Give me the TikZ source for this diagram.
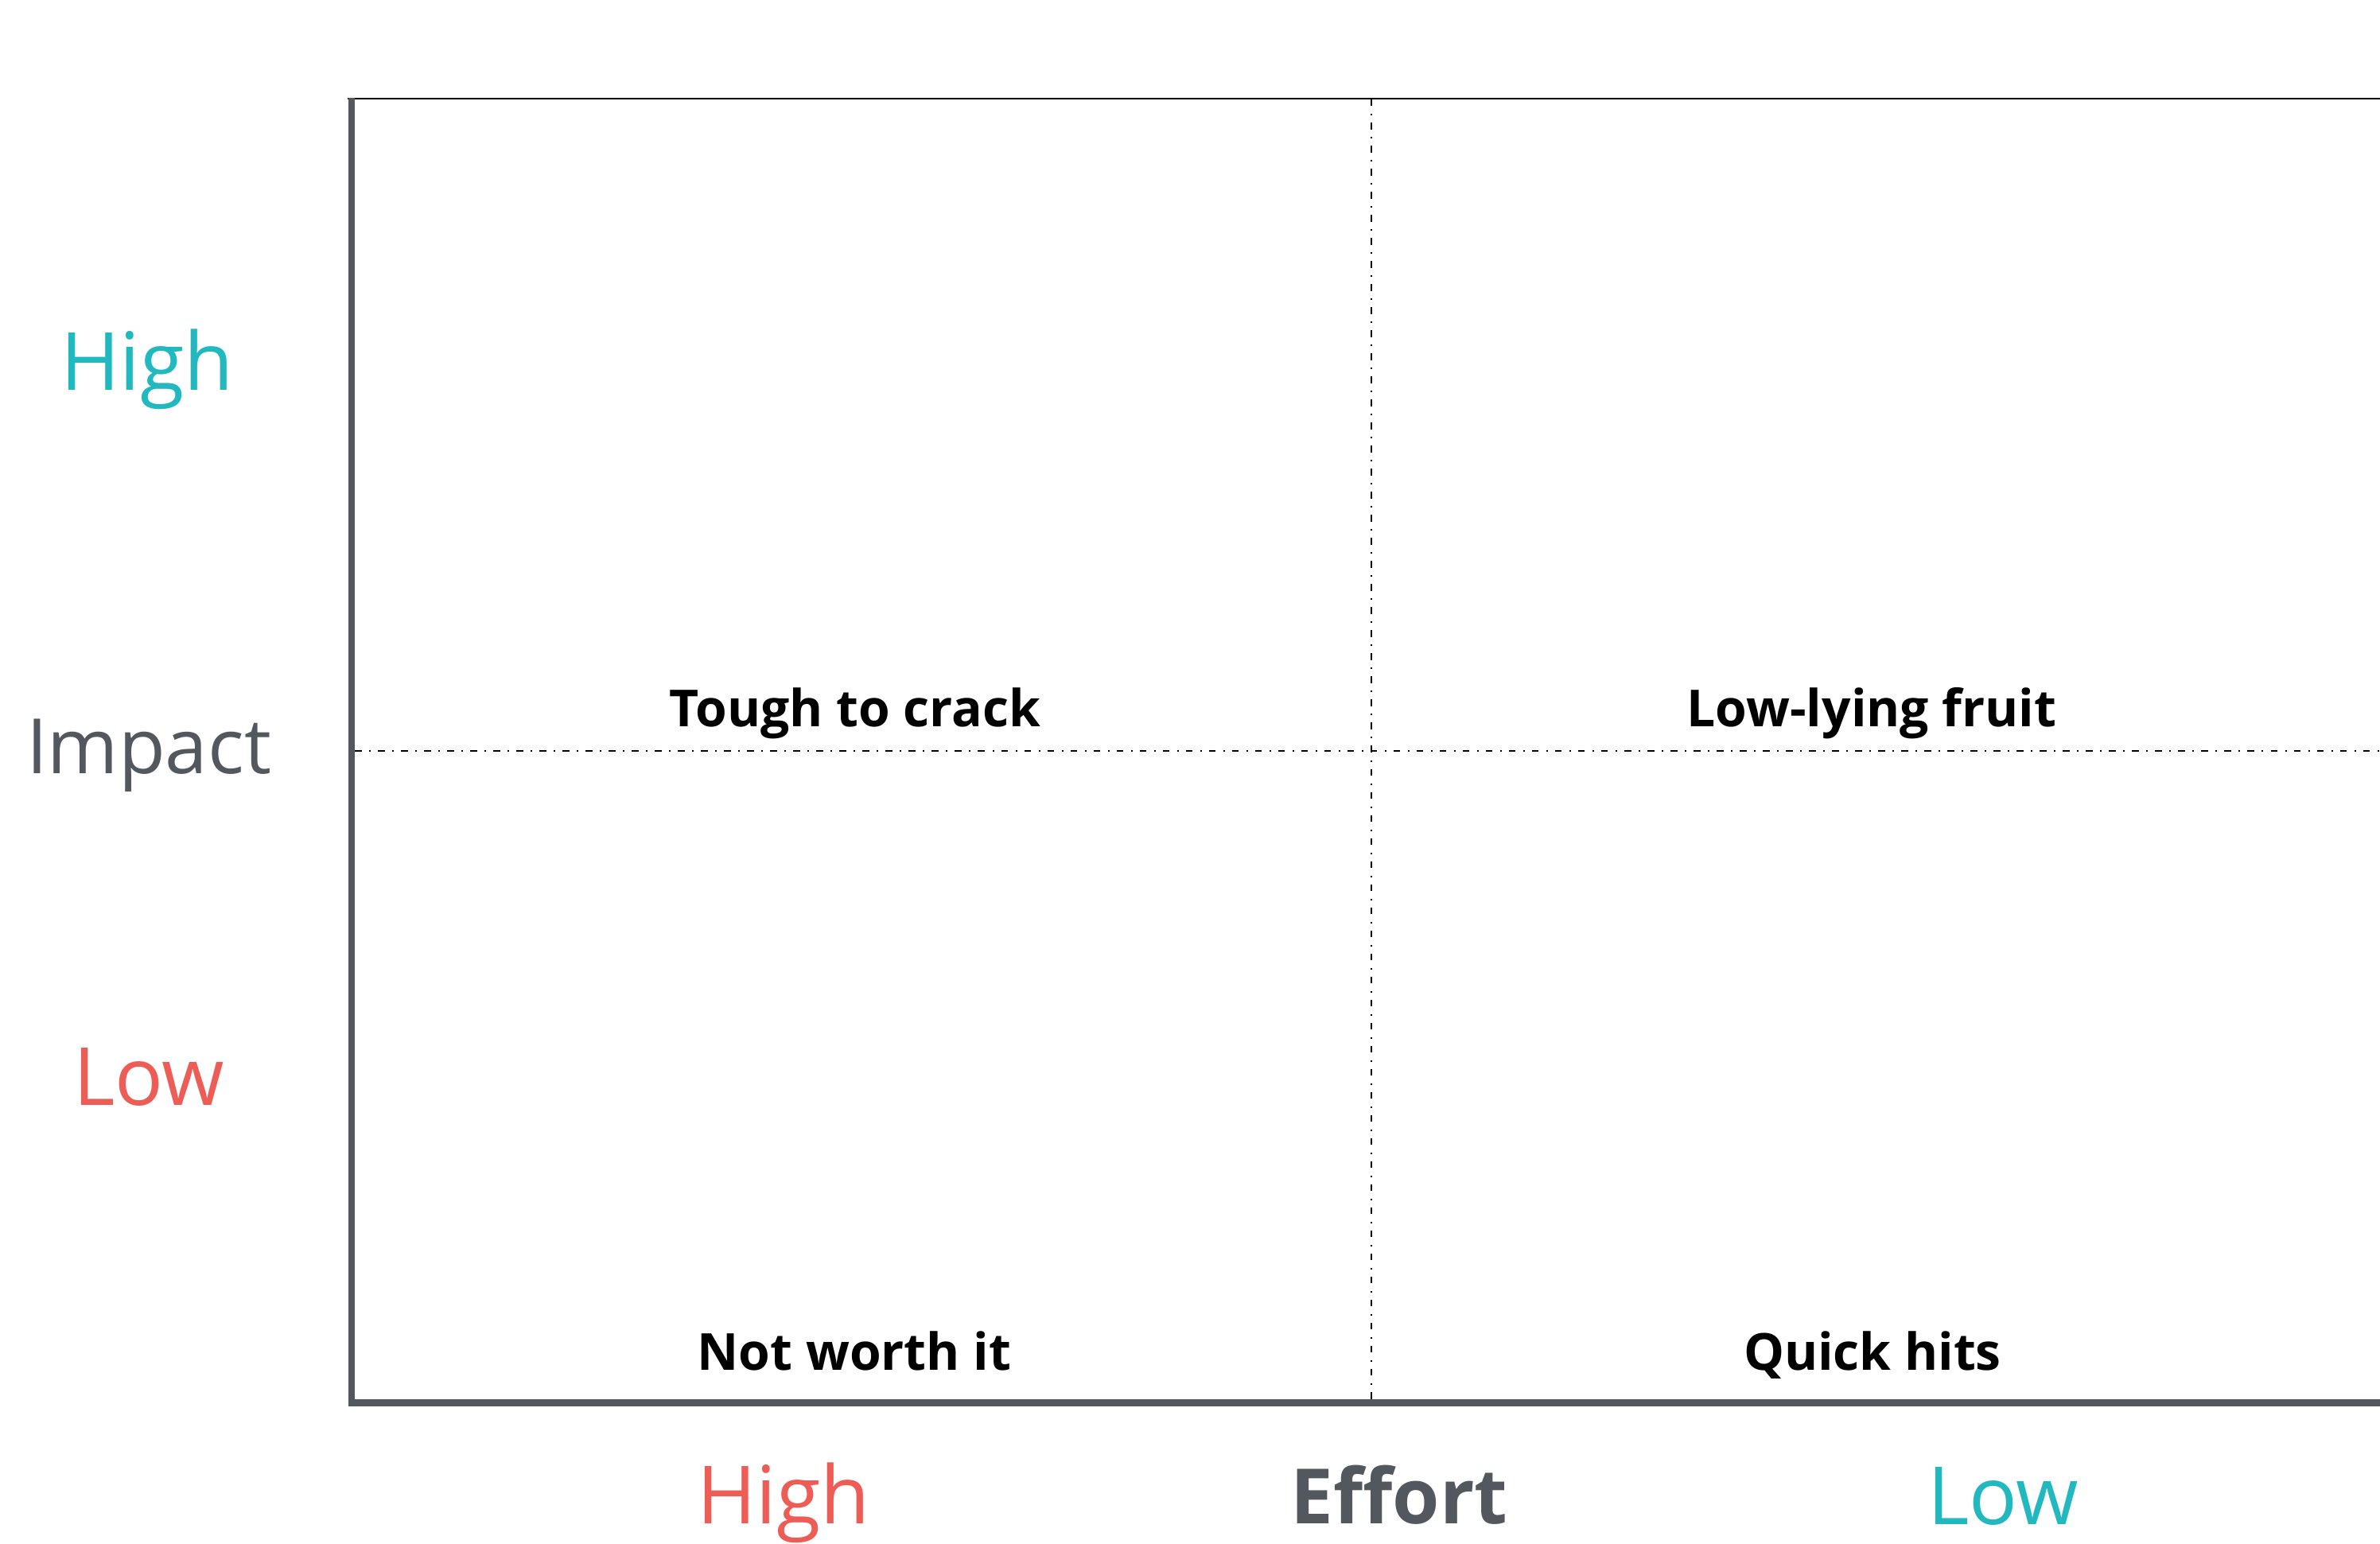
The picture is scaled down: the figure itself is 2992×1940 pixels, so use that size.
\documentclass[tikz,border=0pt]{standalone}
\usepackage{fontspec}
\setmainfont{Open Sans}
\definecolor{tealc}{HTML}{22B8C0}
\definecolor{redc}{HTML}{EE5D55}
\definecolor{grayc}{HTML}{53585F}
\begin{document}
\begin{tikzpicture}[x=0.01cm,y=-0.01cm,
  axislabel/.style={inner sep=0,outer sep=0,anchor=base,font=\fontsize{28.7pt}{30pt}\selectfont},
  axistitle/.style={inner sep=0,outer sep=0,anchor=base,text=grayc,font=\fontsize{27.3pt}{29pt}\selectfont},
  quadlabel/.style={inner sep=0,outer sep=0,anchor=base,font=\fontsize{18.25pt}{20pt}\selectfont\bfseries,text=black},
  axisline/.style={draw=grayc},
  divider/.style={draw=black,line width=0.02cm,dash pattern=on 0.085cm off 0.095cm on 0.02cm off 0.09cm}]
\useasboundingbox (0,0) rectangle (2992,1940);
% corners
\coordinate (tl) at (442,123);
\coordinate (bl) at (442,1768);
\coordinate (toplA) at (437,124);
\coordinate (toplB) at (2992,124);
\coordinate (botA) at (437.75,1763.5);
\coordinate (botB) at (2992,1763.5);
\coordinate (vtop) at (1724,125);
\coordinate (vbot) at (1724,1759);
\coordinate (hleft) at (446,944);
\coordinate (hright) at (2992,944);
% lines
\draw[divider] (vtop) -- (vbot);
\draw[divider] (hleft) -- (hright);
\draw[draw=black,line width=0.02cm] (toplA) -- (toplB);
\draw[axisline,line width=0.085cm] (tl) -- (bl);
\draw[axisline,line width=0.09cm] (botA) -- (botB);
% axis labels
\node[axislabel,text=tealc] (ihigh) at (185,491) {High};
\node[axistitle] (impact) at (187,972) {Impact};
\node[axislabel,text=redc] (ilow) at (187,1389) {Low};
\node[axislabel,text=redc] (ehigh) at (985,1915) {High};
\node[axistitle,font=\fontsize{27.3pt}{29pt}\selectfont\bfseries] (effort) at (1759,1915) {Effort};
\node[axislabel,text=tealc] (elow) at (2518,1916) {Low};
% quadrant labels
\node[quadlabel] (tough) at (1075,913) {Tough to crack};
\node[quadlabel] (fruit) at (2353,913) {Low-lying fruit};
\node[quadlabel] (notworth) at (1074,1722) {Not worth it};
\node[quadlabel] (quick) at (2354,1722) {Quick hits};
\end{tikzpicture}
\end{document}
